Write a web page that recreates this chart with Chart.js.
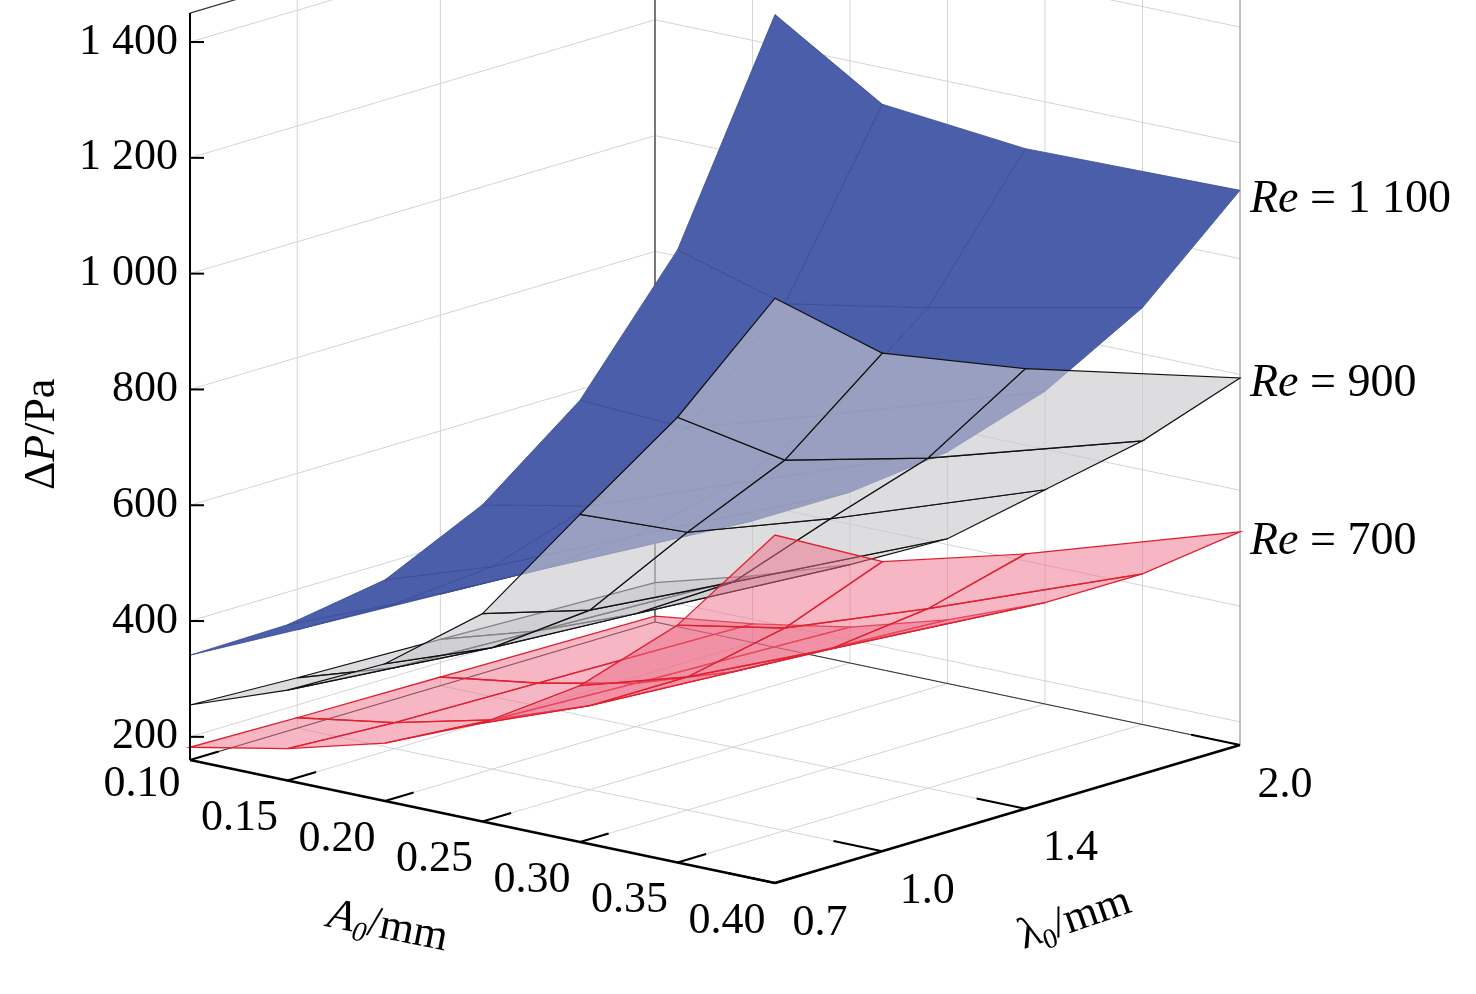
<!DOCTYPE html>
<html><head><meta charset="utf-8">
<script src="https://cdn.jsdelivr.net/npm/chart.js@4"></script>
<style>html,body{margin:0;padding:0;background:#fff}#w{width:1476px;height:994px}</style>
</head><body><div id="w"><canvas id="c"></canvas></div>
<script>
const aTicks = [0.10,0.15,0.20,0.25,0.30,0.35,0.40];
const aLabels = ["0.10","0.15","0.20","0.25","0.30","0.35","0.40"];
const lTicks = [0.7,1.0,1.4,2.0];
const lLabels = ["0.7","1.0","1.4","2.0"];
const zTicks = [200,400,600,800,1000,1200,1400];
const zLabels = ["200","400","600","800","1 000","1 200","1 400"];
const gridA = [0.10,0.15,0.20,0.25,0.30,0.35,0.40];
const gridL = [0.7,1.0,1.4,2.0];
// rows: lambda (gridL), cols: A (gridA)
const re1100 = [[341,429,542,707,923,1218,1660],[330,410,510,650,820,1070,1450],[318,395,490,615,770,990,1300],[300,370,455,560,700,880,1118]];
const re900  = [[255,316,397,519,726,929,1170],[247,300,370,470,640,800,1020],[240,290,355,445,590,730,920],[228,275,330,410,530,650,794]];
const re700  = [[182,215,260,330,430,570,761],[178,205,245,305,390,510,660],[175,200,235,290,365,470,600],[170,192,222,270,335,420,528]];
const Z0=160, Z1=1450;

function proj(A,L,Z){
  const a=(A-0.1)/0.3, l=(L-0.7)/1.3;
  return [190+a*585+l*465, 760+a*123-l*138-(Z-Z0)*0.579];
}
const plugin={id:'s3d',afterDraw(chart){
  const ctx=chart.ctx, sx=chart.scales.x, sy=chart.scales.y;
  const P=(A,L,Z)=>{const p=proj(A,L,Z);return [sx.getPixelForValue(p[0]),sy.getPixelForValue(p[1])];};
  const line=(p,q,col,w)=>{ctx.beginPath();ctx.moveTo(p[0],p[1]);ctx.lineTo(q[0],q[1]);ctx.strokeStyle=col;ctx.lineWidth=w;ctx.stroke();};
  ctx.save();
  const g='#d4d4d4';
  aTicks.forEach(a=>line(P(a,0.7,Z0),P(a,2.0,Z0),g,1));
  lTicks.forEach(l=>line(P(0.1,l,Z0),P(0.4,l,Z0),g,1));
  lTicks.forEach(l=>line(P(0.1,l,Z0),P(0.1,l,Z1),g,1));
  zTicks.forEach(z=>line(P(0.1,0.7,z),P(0.1,2.0,z),g,1));
  aTicks.forEach(a=>line(P(a,2.0,Z0),P(a,2.0,Z1),g,1));
  zTicks.forEach(z=>line(P(0.1,2.0,z),P(0.4,2.0,z),g,1));
  line(P(0.1,2.0,Z0),P(0.1,2.0,Z1),'#333',1.2);
  line(P(0.1,0.7,Z1),P(0.1,2.0,Z1),'#333',1.2);
  line(P(0.1,2.0,Z1),P(0.4,2.0,Z1),'#333',1.2);
  line(P(0.4,2.0,Z0),P(0.4,2.0,Z1),'#999',1);
  line(P(0.1,2.0,Z0),P(0.4,2.0,Z0),'#333',1.2);
  line(P(0.1,0.7,Z0),P(0.1,2.0,Z0),'#333',1.2);
  function surf(d,fill,edge,ew){
    const quads=[];
    for(let i=0;i<gridL.length-1;i++)for(let j=0;j<gridA.length-1;j++){
      quads.push({i,j,depth:gridL[i]/1.3-gridA[j]/0.3});
    }
    quads.sort((p,q)=>q.depth-p.depth);
    quads.forEach(({i,j})=>{
      const pts=[P(gridA[j],gridL[i],d[i][j]),P(gridA[j+1],gridL[i],d[i][j+1]),P(gridA[j+1],gridL[i+1],d[i+1][j+1]),P(gridA[j],gridL[i+1],d[i+1][j])];
      ctx.beginPath();ctx.moveTo(pts[0][0],pts[0][1]);pts.slice(1).forEach(p=>ctx.lineTo(p[0],p[1]));ctx.closePath();
      ctx.fillStyle=fill;ctx.fill();
      if(edge){ctx.strokeStyle=edge;ctx.lineWidth=ew;ctx.stroke();}
    });
  }
  surf(re1100,'rgba(74,94,170,1)','rgba(55,75,150,0.8)',1);
  surf(re900,'rgba(200,200,205,0.62)','#111',1.2);
  surf(re700,'rgba(238,110,135,0.5)','#e0202e',1.3);
  line(P(0.1,0.7,Z0),P(0.1,0.7,Z1),'#000',2);
  line(P(0.1,0.7,Z0),P(0.4,0.7,Z0),'#000',2.5);
  line(P(0.4,0.7,Z0),P(0.4,2.0,Z0),'#000',2.5);
  ctx.fillStyle='#000';
  ctx.font='44px "Liberation Serif"';
  ctx.textBaseline='middle';
  zTicks.forEach((z,k)=>{const p=P(0.1,0.7,z);line(p,[p[0]+14,p[1]],'#000',2);ctx.textAlign='right';ctx.fillText(zLabels[k],p[0]-12,p[1]);});
  aTicks.forEach((a,k)=>{const p=P(a,0.7,Z0);const q=P(a,0.78,Z0);line(p,q,'#000',2);ctx.textAlign='center';ctx.fillText(aLabels[k],p[0]-48,p[1]+(k===0?24:38));});
  lTicks.forEach((l,k)=>{const p=P(0.4,l,Z0);const q=P(0.375,l,Z0);line(p,q,'#000',2);ctx.textAlign='center';ctx.fillText(lLabels[k],p[0]+45,p[1]+40);});
  function seq(parts,x,y){let cx=x;parts.forEach(([f,t,dy])=>{ctx.font=f;ctx.fillText(t,cx,y+(dy||0));cx+=ctx.measureText(t).width;});return cx-x;}
  ctx.textAlign='left';
  ctx.save();ctx.translate(42,420);ctx.rotate(-Math.PI/2);
  seq([['44px "Liberation Serif"','Δ'],['italic 44px "Liberation Serif"','P'],['44px "Liberation Serif"','/Pa']],-70,0);ctx.restore();
  ctx.save();ctx.translate(328,915);ctx.rotate(0.2);
  seq([['italic 44px "Liberation Serif"','A'],['italic 28px "Liberation Serif"','0',12],['44px "Liberation Serif"','/mm']],0,0);ctx.restore();
  ctx.save();ctx.translate(1020,938);ctx.rotate(-0.33);
  seq([['44px "Liberation Serif"','λ'],['28px "Liberation Serif"','0',12],['44px "Liberation Serif"','/mm']],0,0);ctx.restore();
  [['1 100',200],['900',384],['700',542]].forEach(([t,y])=>{
    seq([['italic 46px "Liberation Serif"','Re'],['46px "Liberation Serif"',' = '+t]],1250,y);
  });
  ctx.restore();
}};
new Chart(document.getElementById('c'),{type:'scatter',data:{datasets:[{data:[],showLine:false}]},
 options:{responsive:true,maintainAspectRatio:false,animation:false,layout:{padding:0},
 plugins:{legend:{display:false},tooltip:{enabled:false}},
 scales:{x:{type:'linear',min:0,max:1476,display:false},y:{type:'linear',min:0,max:994,reverse:true,display:false}}},
 plugins:[plugin]});
</script></body></html>
